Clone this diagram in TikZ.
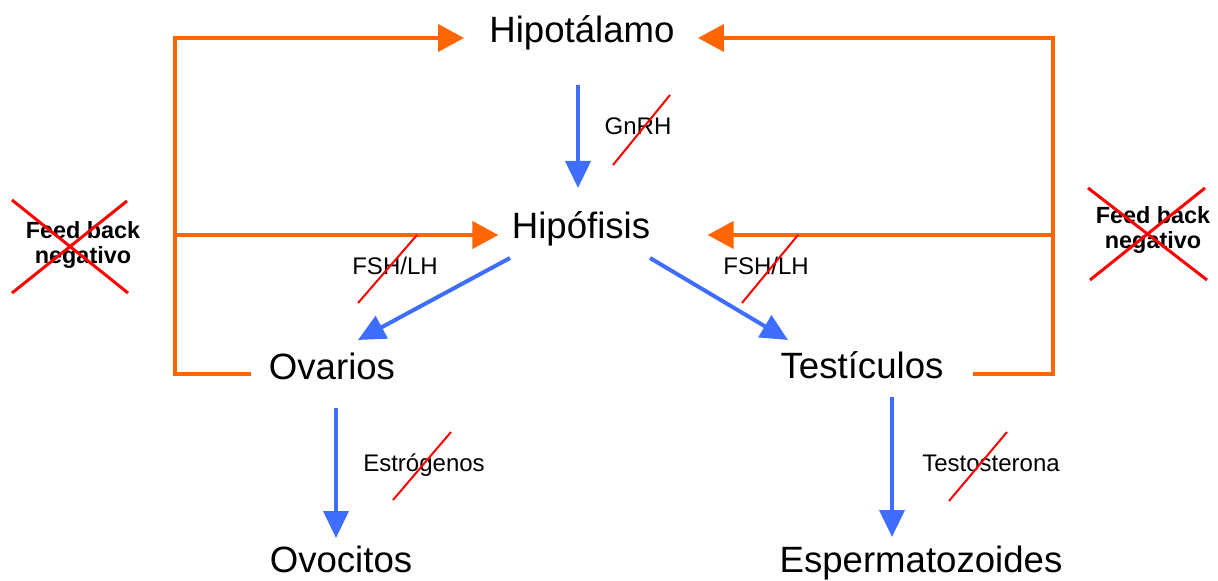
\documentclass[tikz,border=0pt]{standalone}
\usepackage{fontspec}
\setmainfont{Liberation Sans}
\usetikzlibrary{arrows.meta}
\definecolor{naranja}{RGB}{255,102,0}
\definecolor{azul}{RGB}{62,110,255}
\definecolor{rojo}{RGB}{255,0,0}

\begin{document}
\begin{tikzpicture}[x=0.5pt,y=-0.5pt,
    organo/.style={inner sep=0pt,anchor=base,font=\fontsize{18.3pt}{22pt}\selectfont},
    hormona/.style={inner sep=0pt,anchor=base,font=\fontsize{12pt}{14pt}\selectfont},
    retro/.style={inner sep=0pt,align=center,font=\fontsize{11.7pt}{12.5pt}\selectfont\bfseries},
    fb/.style={naranja,line width=2pt,-{Triangle[length=13pt,width=13.5pt]}},
    eje/.style={azul,line width=2pt,-{Triangle[length=13.5pt,width=12.5pt]}},
    tachado/.style={rojo,line width=1pt},
    cruz/.style={rojo,line width=1.5pt}]
\useasboundingbox (0,0) rectangle (1218,581);
% organos
\node[organo] (hipot) at (582,43) {Hipotálamo};
\node[organo] (hipof) at (581,239) {Hipófisis};
\node[organo] (ovar)  at (332,380) {Ovarios};
\node[organo] (test)  at (862,379) {Testículos};
\node[organo] (ovoc)  at (341,572) {Ovocitos};
\node[organo] (esper) at (921,572) {Espermatozoides};
% hormonas
\node[hormona] (gnrh)  at (638,135) {GnRH};
\node[hormona] (fshl)  at (395,275) {FSH/LH};
\node[hormona] (fshr)  at (766,275) {FSH/LH};
\node[hormona] (estr)  at (424,472) {Estrógenos};
\node[hormona] (testo) at (991,472) {Testosterona};
\node[retro] (retl) at (83,245) {Feed back\\negativo};
\node[retro] (retr) at (1153,230) {Feed back\\negativo};
% esquinas del lazo
\coordinate (esqL) at (175,38);
\coordinate (medL) at (175,235);
\coordinate (esqR) at (1053,38);
\coordinate (medR) at (1053,235);
% lazos de retroalimentacion
\draw[fb] ([shift={(-18,-6)}]ovar.base west) -| (esqL) -- ([shift={(-25,-5)}]hipot.base west);
\draw[fb] (medL) -- ([shift={(-13,-4)}]hipof.base west);
\draw[fb] ([shift={(29,-5)}]test.base east) -| (esqR) -- ([shift={(23,-5)}]hipot.base east);
\draw[fb] (medR) -- ([shift={(57,-4)}]hipof.base east);
% eje hormonal
\draw[eje] ([shift={(-4,42)}]hipot.base) -- ([shift={(-3,-51)}]hipof.base);
\draw[eje] ([shift={(-71,19)}]hipof.base) -- ([shift={(26,-40)}]ovar.base);
\draw[eje] ([shift={(69,19)}]hipof.base) -- ([shift={(-74,-39)}]test.base);
\draw[eje] ([shift={(4,28)}]ovar.base) -- ([shift={(-5,-34)}]ovoc.base);
\draw[eje] ([shift={(30,18)}]test.base) -- ([shift={(-29,-35)}]esper.base);
% tachados
\draw[tachado] ([shift={(-25,30)}]gnrh.base) -- ([shift={(32,-40)}]gnrh.base);
\draw[tachado] ([shift={(-37,28)}]fshl.base) -- ([shift={(22,-40)}]fshl.base);
\draw[tachado] ([shift={(-24,28)}]fshr.base) -- ([shift={(32,-40)}]fshr.base);
\draw[tachado] ([shift={(-31,28)}]estr.base) -- ([shift={(27,-40)}]estr.base);
\draw[tachado] ([shift={(-42,29)}]testo.base) -- ([shift={(16,-40)}]testo.base);
\draw[cruz] ([shift={(-71,-45)}]retl.center) -- ([shift={(45,48)}]retl.center);
\draw[cruz] ([shift={(44,-44)}]retl.center) -- ([shift={(-71,48)}]retl.center);
\draw[cruz] ([shift={(-65,-42)}]retr.center) -- ([shift={(54,50)}]retr.center);
\draw[cruz] ([shift={(52,-42)}]retr.center) -- ([shift={(-63,50)}]retr.center);
\end{tikzpicture}
\end{document}
